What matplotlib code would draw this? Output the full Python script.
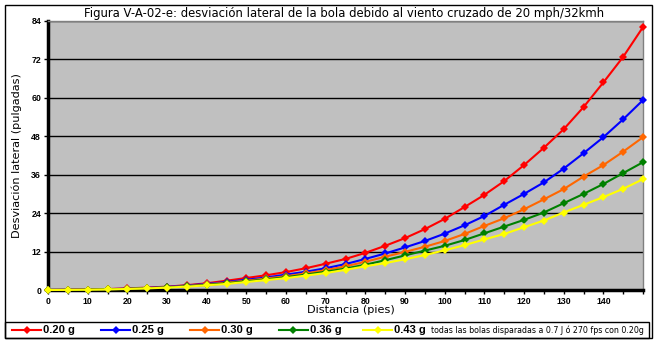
import matplotlib
matplotlib.use("Agg")
import matplotlib.pyplot as plt
from matplotlib.lines import Line2D
from matplotlib.patches import Rectangle
from matplotlib.ticker import MultipleLocator

distance = list(range(0, 151, 5))
series_labels = ["0.20 g", "0.25 g", "0.30 g", "0.36 g", "0.43 g"]
colors = ["#FF0000", "#0000FF", "#FF6600", "#008000", "#FFFF00"]

dev_020 = [0, 0.05, 0.15, 0.3, 0.5, 0.75, 1.05, 1.5, 2.1, 2.9, 3.75, 4.6, 5.6, 6.8, 8.2, 9.7,
           11.6, 13.8, 16.2, 19.0, 22.2, 25.9, 29.7, 34.0, 39.0, 44.4, 50.2, 57.1, 64.8, 72.8, 82.1]
dev_025 = [0, 0.04, 0.12, 0.25, 0.42, 0.65, 0.95, 1.4, 1.9, 2.5, 3.2, 3.9, 4.8, 5.7, 6.8, 8.1,
           9.7, 11.4, 13.3, 15.3, 17.6, 20.2, 23.1, 26.6, 30.0, 33.6, 37.9, 42.7, 47.7, 53.3, 59.3]
dev_030 = [0, 0.04, 0.11, 0.22, 0.38, 0.58, 0.85, 1.25, 1.75, 2.3, 2.9, 3.6, 4.3, 5.2, 6.2, 7.4,
           8.8, 10.4, 11.9, 13.5, 15.3, 17.5, 20.0, 22.4, 25.2, 28.3, 31.5, 35.4, 39.0, 43.2, 47.7]
dev_036 = [0, 0.03, 0.1, 0.2, 0.35, 0.55, 0.8, 1.15, 1.6, 2.1, 2.7, 3.3, 4.0, 4.8, 5.7, 6.7,
           7.9, 9.3, 10.8, 12.3, 13.8, 15.6, 17.7, 19.8, 21.9, 24.2, 27.1, 30.0, 33.1, 36.5, 39.9]
dev_043 = [0, 0.03, 0.09, 0.18, 0.32, 0.5, 0.75, 1.05, 1.45, 1.9, 2.5, 3.1, 3.7, 4.5, 5.3, 6.3,
           7.4, 8.4, 9.6, 10.9, 12.4, 14.0, 15.8, 17.5, 19.6, 21.7, 24.2, 26.6, 29.0, 31.6, 34.6]
all_series = [dev_020, dev_025, dev_030, dev_036, dev_043]

x_ticks = list(range(0, 141, 10))
y_ticks = list(range(0, 85, 12))

title = "Figura V-A-02-e: desviación lateral de la bola debido al viento cruzado de 20 mph/32kmh"
x_label = "Distancia (pies)"
y_label = "Desviación lateral (pulgadas)"
note = "todas las bolas disparadas a 0.7 J ó 270 fps con 0.20g"

W, H = 657, 343
fig = plt.figure(figsize=(W / 100, H / 100), dpi=100)
fig.patch.set_facecolor("white")

def px(x, y):
    return x / W, 1 - y / H

ax = fig.add_axes([48 / W, 1 - 290 / H, (643 - 48) / W, (290 - 21) / H])
ax.set_facecolor("#C0C0C0")
ax.set_xlim(0, 150)
ax.set_ylim(0, 84)

for yv in y_ticks[1:]:
    ax.axhline(yv, color="black", lw=1.0, zorder=1)

for vals, col, lab in zip(all_series, colors, series_labels):
    ax.plot(distance, vals, color=col, lw=1.5, marker="D", markersize=4,
            markeredgewidth=0, label=lab, zorder=3, clip_on=False)

bold_font = "Liberation Sans"
ax.set_xticks(x_ticks)
ax.xaxis.set_minor_locator(MultipleLocator(5))
ax.set_yticks(y_ticks)
ax.tick_params(axis="both", which="both", direction="out", length=3, width=1,
               color="black", labelsize=6.3, pad=2)
for lbl in ax.get_xticklabels() + ax.get_yticklabels():
    lbl.set_fontweight("bold")
    lbl.set_family(bold_font)

for s in ["left", "bottom"]:
    ax.spines[s].set_color("black")
    ax.spines[s].set_linewidth(2.5)
for s in ["top", "right"]:
    ax.spines[s].set_color("#808080")
    ax.spines[s].set_linewidth(1.0)

fig.text(344 / W, 1 - 13 / H, title, ha="center", va="center", fontsize=8.4)
fig.text(351 / W, 1 - 310 / H, x_label, ha="center", va="center", fontsize=8.1)
fig.text(17 / W, 1 - 156 / H, y_label, ha="center", va="center", fontsize=8.1, rotation=90)

# outer frame
fig.add_artist(Rectangle(px(5, 338), 647 / W, 333 / H, transform=fig.transFigure,
                         fill=False, edgecolor="black", lw=1.0))
# legend box
fig.add_artist(Rectangle(px(5, 338), 644 / W, 16 / H, transform=fig.transFigure,
                         fill=False, edgecolor="black", lw=1.0))

leg_line_x = [12, 101, 190, 279, 363]
ly = 330
for lx, col, lab in zip(leg_line_x, colors, series_labels):
    x0, y0 = px(lx, ly)
    x1, _ = px(lx + 29, ly)
    fig.add_artist(Line2D([x0, x1], [y0, y0], transform=fig.transFigure, color=col, lw=1.5))
    fig.add_artist(Line2D([(x0 + x1) / 2], [y0], transform=fig.transFigure, color=col,
                          marker="D", markersize=4, markeredgewidth=0))
    fig.text(x1 + 2 / W, y0, lab, ha="left", va="center", fontsize=8,
             fontweight="bold", family=bold_font)

fig.text(431 / W, 1 - ly / H, note, ha="left", va="center", fontsize=5.7)

fig.savefig("out.png", dpi=100)
